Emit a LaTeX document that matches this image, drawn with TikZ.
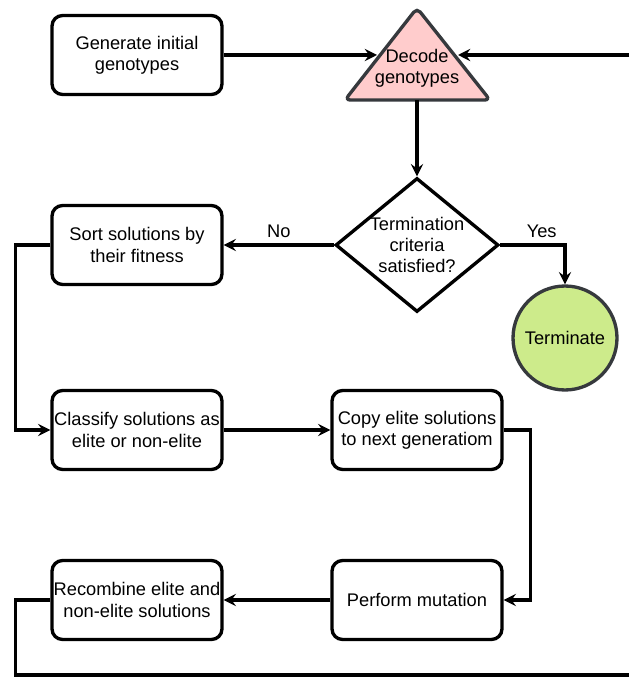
\documentclass[tikz,border=0pt]{standalone}
\usepackage{fontspec}
\setmainfont{Liberation Sans}
\usepackage{tikz}
\usetikzlibrary{shapes.geometric,arrows.meta}

\definecolor{decodepink}{HTML}{FFCCCC}
\definecolor{donegreen}{HTML}{CDEB8B}
\definecolor{edgegray}{HTML}{36393D}

\tikzset{
  box/.style={draw, rounded corners=6pt, line width=1.9pt, minimum width=3.4cm,
    minimum height=1.58cm, align=center, inner sep=0pt},
  txt/.style={align=center, font={\fontsize{10.4}{12}\selectfont}},
  link/.style={line width=1.9pt, -{Stealth[length=7pt,width=7pt,inset=2.5pt]}},
  wire/.style={line width=1.9pt}
}

\begin{document}
\begin{tikzpicture}[x=0.02cm, y=-0.02cm, every node/.append style={txt}]
\useasboundingbox (0,0) rectangle (629,678);
%\draw[help lines] (0,0) grid[step=50] (629,678);

 % boxes
 \node[box] (gen) at (137,55) {Generate initial\\genotypes};
 \node[box] (sort) at (137,245) {Sort solutions by\\their fitness};
 \node[box] (classify) at (137,430) {Classify solutions as\\elite or non-elite};
 \node[box] (copy) at (417,430) {Copy elite solutions\\to next generatiom};
 \node[box] (mutate) at (417,600) {Perform mutation};
 \node[box] (recomb) at (137,600) {Recombine elite and\\non-elite solutions};

 % decode triangle
 \draw[fill=decodepink, draw=edgegray, line width=1.9pt, rounded corners=3pt]
   (417,8) -- (490,100) -- (345,100) -- cycle;
 \node (decode) at (417,68) {Decode\\genotypes};
 \coordinate (dl) at (377,55);
 \coordinate (dr) at (458,55);
 \coordinate (dbase) at (417,100);

 % decision
 \node[diamond, draw, line width=1.9pt, minimum width=3.26cm, minimum height=2.68cm,
   inner sep=0pt] (crit) at (417,245) {};
 \node (crittext) at (crit) {Termination\\criteria\\satisfied?};

 \node[circle, draw=edgegray, fill=donegreen, line width=1.9pt, minimum size=2.08cm,
   inner sep=0pt] (done) at (565,338) {Terminate};

 \coordinate (edgetop) at (629,55);
 \coordinate (edgebot) at (629,675);

 % connectors
 \draw[link] (gen) -- (dl);
 \draw[link] (edgetop) -- (dr);
 \draw[link] (dbase) -- (crit);
 \draw[link] (crit) -- node[above] {No} (sort);
 \draw[link] (crit.east) -| node[pos=0.32, above] {Yes} (done);
 \draw[link] (sort.west) -- ++(-35,0) |- (classify.west);
 \draw[link] (classify) -- (copy);
 \draw[link] (copy.east) -- ++(27,0) |- (mutate.east);
 \draw[link] (mutate) -- (recomb);
 \draw[wire] (recomb.west) -- ++(-35,0) |- (edgebot);

\end{tikzpicture}
\end{document}
